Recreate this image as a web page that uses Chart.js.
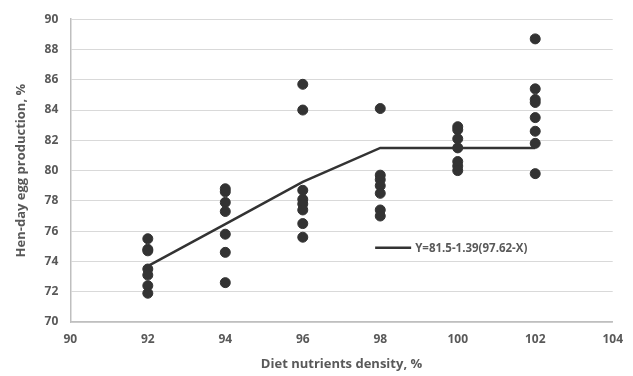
<!DOCTYPE html>
<html>
<head>
<meta charset="utf-8">
<script src="https://cdn.jsdelivr.net/npm/chart.js@4/dist/chart.umd.min.js"></script>
<style>
  html, body { margin: 0; padding: 0; background: #fff; }
  #wrap { width: 633px; height: 376px; }
</style>
</head>
<body>
<div id="wrap"><canvas id="myChart" width="633" height="376"></canvas></div>
<script>
// diet nutrient density levels and observed hen-day egg production
var densityLevels = [92, 94, 96, 98, 100, 102]
var prod92 = [75.5, 74.8, 74.7, 73.5, 73.1, 72.4, 71.9]
var prod94 = [78.8, 78.6, 77.9, 77.3, 75.8, 74.6, 72.6]
var prod96 = [85.7, 84.0, 78.7, 78.1, 77.8, 77.4, 76.5, 75.6]
var prod98 = [84.1, 79.7, 79.4, 79.0, 78.5, 77.4, 77.0]
var prod100 = [82.9, 82.7, 82.1, 81.5, 80.6, 80.3, 80.0]
var prod102 = [88.7, 85.4, 84.7, 84.5, 83.5, 82.6, 81.8, 79.8]
// broken-line model Y=81.5-1.39(97.62-X), values at each level
var modelFit = [73.69, 76.47, 79.25, 81.5, 81.5, 81.5]
var modelLabel = 'Y=81.5-1.39(97.62-X)'
var xTicks = [90, 92, 94, 96, 98, 100, 102, 104]
var yTicks = [70, 72, 74, 76, 78, 80, 82, 84, 86, 88, 90]

var groups = [prod92, prod94, prod96, prod98, prod100, prod102]
var obsPoints = []
for (var i = 0; i < densityLevels.length; i++) {
  groups[i].forEach(function(v) { obsPoints.push({x: densityLevels[i], y: v}) })
}
var fitPoints = densityLevels.map(function(x, i) { return {x: x, y: modelFit[i]} })

var grey = '#595959'
var font = "'Open Sans', 'Noto Sans', sans-serif"

// legend sits inside the plot, drawn by hand like Excel does
var insideLegend = {
  id: 'insideLegend',
  afterDatasetsDraw: function(chart) {
    var a = chart.chartArea, ctx = chart.ctx
    var x0 = a.left + (a.right - a.left) * 0.562
    var y0 = a.top + (a.bottom - a.top) * 0.755
    ctx.save()
    ctx.strokeStyle = '#333333'
    ctx.lineWidth = 2.5
    ctx.beginPath()
    ctx.moveTo(x0, y0)
    ctx.lineTo(x0 + 36, y0)
    ctx.stroke()
    ctx.fillStyle = grey
    ctx.font = 'bold 11.5px ' + font
    ctx.textBaseline = 'middle'
    ctx.fillText(modelLabel, x0 + 40, y0 + 1)
    ctx.restore()
  }
}

var ctx = document.getElementById('myChart').getContext('2d')
var myChart = new Chart(ctx, {
  type: 'scatter',
  data: {
    datasets: [{
      label: 'observed',
      data: obsPoints,
      backgroundColor: '#333333',
      borderColor: '#333333',
      pointRadius: 5,
      pointHoverRadius: 5
    }, {
      label: modelLabel,
      data: fitPoints,
      showLine: true,
      borderColor: '#333333',
      borderWidth: 2.5,
      pointRadius: 0,
      fill: false
    }]
  },
  options: {
    responsive: false,
    animation: false,
    layout: {padding: {top: 18, right: 11, left: 9, bottom: 0}},
    plugins: {legend: {display: false}, tooltip: {enabled: false}},
    scales: {
      x: {
        type: 'linear', min: 90, max: 104,
        afterBuildTicks: function(s) { s.ticks = xTicks.map(function(v) { return {value: v} }) },
        grid: {display: false, drawTicks: false},
        border: {color: '#bfbfbf', width: 1.5},
        ticks: {color: grey, font: {family: font, size: 12, weight: 'bold'}, padding: 10},
        title: {display: true, text: 'Diet nutrients density, %', color: grey,
                font: {family: font, size: 13, weight: 'bold'}, padding: {top: 0}}
      },
      y: {
        type: 'linear', min: 70, max: 90,
        afterBuildTicks: function(s) { s.ticks = yTicks.map(function(v) { return {value: v} }) },
        grid: {color: '#d9d9d9', lineWidth: 1, drawTicks: false},
        border: {color: '#bfbfbf', width: 1.5},
        ticks: {color: grey, font: {family: font, size: 12, weight: 'bold'}, padding: 12},
        title: {display: true, text: 'Hen-day egg production, %', color: grey,
                font: {family: font, size: 13, weight: 'bold'}, padding: {bottom: 4}}
      }
    }
  },
  plugins: [insideLegend]
})
</script>
</body>
</html>
